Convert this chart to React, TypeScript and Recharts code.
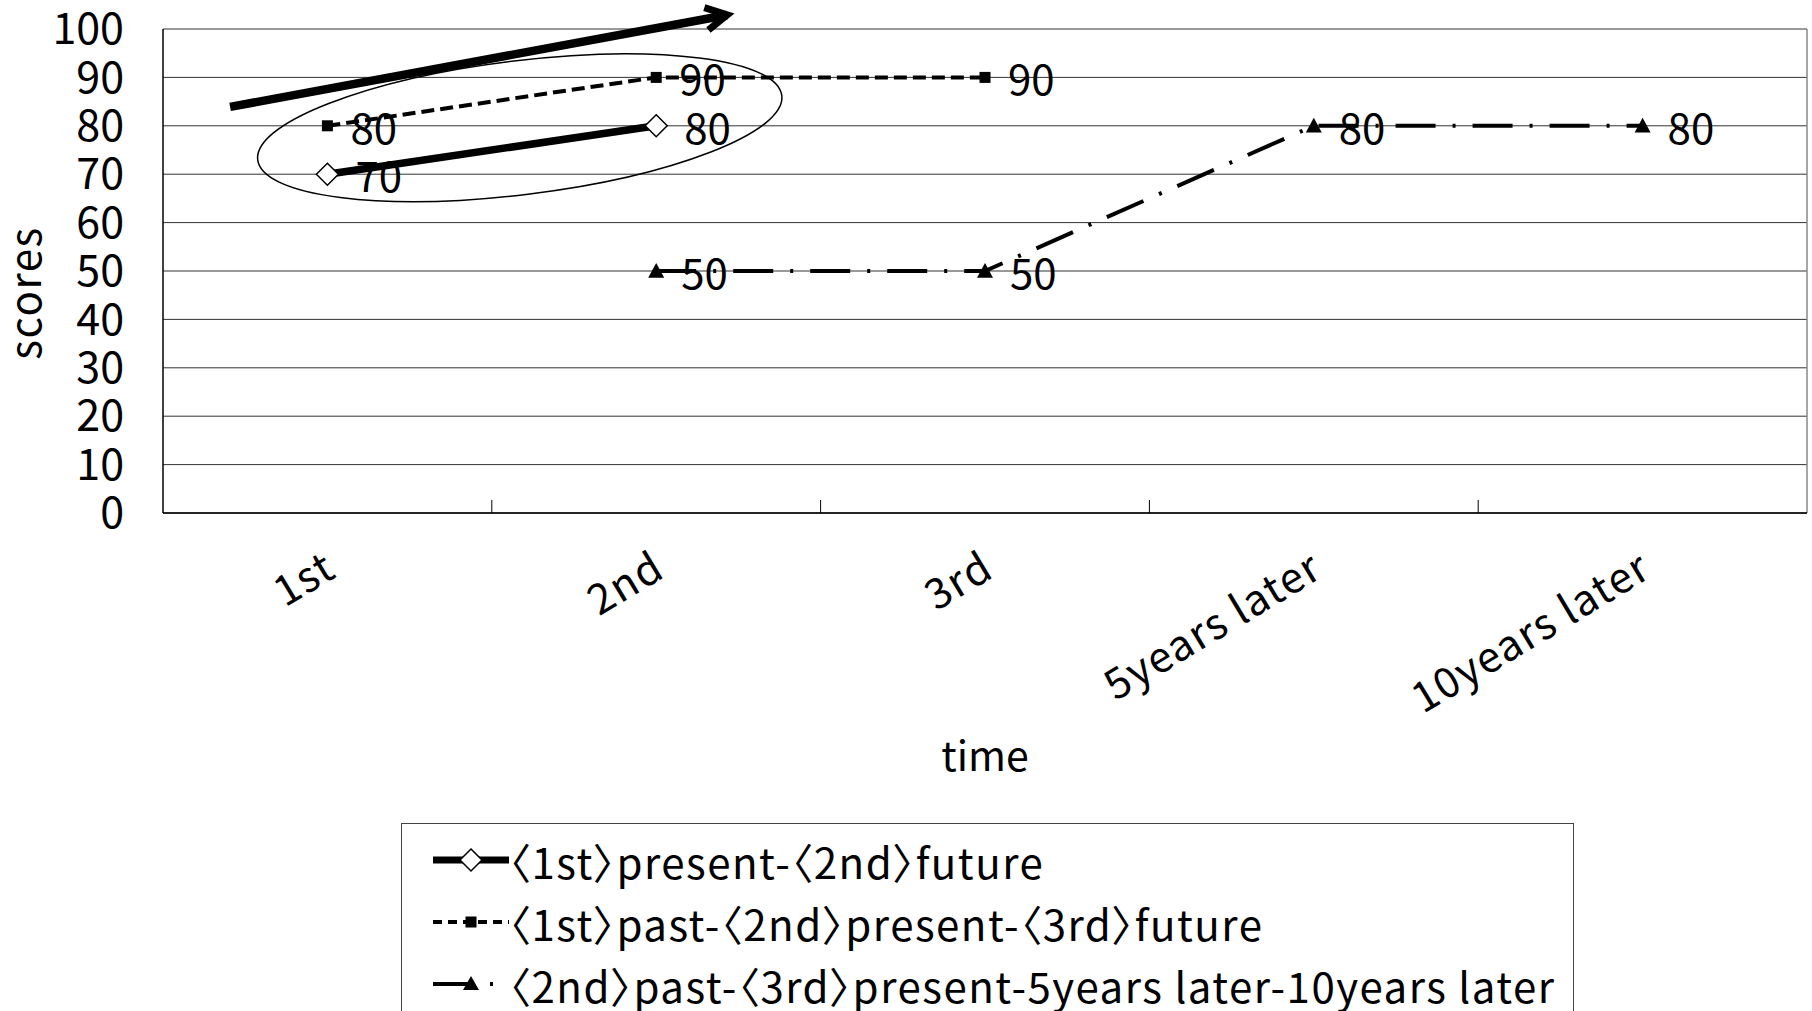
import React from 'react';
import {
  LineChart, Line, XAxis, YAxis, CartesianGrid, Legend, LabelList, ReferenceLine, ReferenceDot,
} from 'recharts';

const FONT = "'Noto Sans CJK JP', 'Noto Sans', sans-serif";

const categories = ['1st', '2nd', '3rd', '5years later', '10years later'];
const series1 = [70, 80, null, null, null];
const series2 = [80, 90, 90, null, null];
const series3 = [null, 50, 50, 80, 80];
const seriesNames = [
  '〈1st〉present-〈2nd〉future',
  '〈1st〉past-〈2nd〉present-〈3rd〉future',
  '〈2nd〉past-〈3rd〉present-5years later-10years later',
];
const yTicks = [0, 10, 20, 30, 40, 50, 60, 70, 80, 90, 100];

// annotation positions (category index, value)
const arrowFrom = { x: -0.296, y: 83.9 };
const arrowTo = { x: 1.216, y: 102.9 };
const ellipseCenter = { x: 0.585, y: 79.6 };

const data = categories.map((c, i) => ({
  idx: i,
  name: c,
  s1: series1[i],
  s2: series2[i],
  s3: series3[i],
}));
const boundaries = categories.slice(1).map((_, i) => i + 0.5);

const Diamond = (p: any) => {
  if (p.cy == null || p.value == null) return <g key={p.key} />;
  const s = 11;
  return (
    <polygon key={p.key}
      points={`${p.cx},${p.cy - s} ${p.cx + s},${p.cy} ${p.cx},${p.cy + s} ${p.cx - s},${p.cy}`}
      fill="#fff" stroke="#000" strokeWidth={1.5} />
  );
};
const Square = (p: any) => {
  if (p.cy == null || p.value == null) return <g key={p.key} />;
  const s = 5.5;
  return <rect key={p.key} x={p.cx - s} y={p.cy - s} width={2 * s} height={2 * s} fill="#000" />;
};
const Triangle = (p: any) => {
  if (p.cy == null || p.value == null) return <g key={p.key} />;
  const s = 8;
  return (
    <polygon key={p.key}
      points={`${p.cx},${p.cy - s} ${p.cx + s},${p.cy + s * 0.85} ${p.cx - s},${p.cy + s * 0.85}`}
      fill="#000" />
  );
};

const XTick = (p: any) => {
  const ax = p.x - 5;
  const ay = p.y + 36;
  return (
    <text x={ax} y={ay} dy="0.74em" textAnchor="end" fontSize={42} letterSpacing={1.5} fontFamily={FONT} fill="#000"
      transform={`rotate(-31 ${ax} ${ay})`}>
      {categories[p.payload.value]}
    </text>
  );
};

const ArrowShape = (p: any) => {
  const { x1, y1, x2, y2 } = p;
  const ang = Math.atan2(y2 - y1, x2 - x1);
  const L = 24;
  const a1 = ang + Math.PI - 0.49;
  const a2 = ang + Math.PI + 0.49;
  return (
    <g>
      <line x1={x1} y1={y1} x2={x2} y2={y2} stroke="#000" strokeWidth={8.5} />
      <polyline
        points={`${x2 + L * Math.cos(a1)},${y2 + L * Math.sin(a1)} ${x2},${y2} ${x2 + L * Math.cos(a2)},${y2 + L * Math.sin(a2)}`}
        fill="none" stroke="#000" strokeWidth={7} strokeLinejoin="miter" />
    </g>
  );
};

const EllipseShape = (p: any) => (
  <ellipse cx={p.cx} cy={p.cy} rx={264} ry={67} transform={`rotate(-7 ${p.cx} ${p.cy})`}
    fill="none" stroke="#000" strokeWidth={1.5} />
);

const legendIcons = [
  (
    <svg width={80} height={30} key="i1">
      <line x1={0} y1={15} x2={76} y2={15} stroke="#000" strokeWidth={7} />
      <polygon points="38,4 49,15 38,26 27,15" fill="#fff" stroke="#000" strokeWidth={1.5} />
    </svg>
  ),
  (
    <svg width={80} height={30} key="i2">
      <line x1={0} y1={15} x2={76} y2={15} stroke="#000" strokeWidth={4} strokeDasharray="9 6" />
      <rect x={32.5} y={9.5} width={11} height={11} fill="#000" />
    </svg>
  ),
  (
    <svg width={80} height={30} key="i3">
      <line x1={0} y1={15} x2={76} y2={15} stroke="#000" strokeWidth={4} strokeDasharray="40 17 3 17" />
      <polygon points="38,7 46,21 30,21" fill="#000" />
    </svg>
  ),
];

const LegendContent = () => (
  <div style={{ paddingTop: 5, fontFamily: FONT }}>
    {seriesNames.map((n, i) => (
      <div key={n} style={{ height: 62, display: 'flex', alignItems: 'center' }}>
        <div style={{ width: 31 }} />
        {legendIcons[i]}
        <span style={{ fontSize: 42, letterSpacing: 1.5, color: '#000', whiteSpace: 'nowrap', fontFeatureSettings: '"palt"', marginLeft: -4 }}>{n}</span>
      </div>
    ))}
  </div>
);

export default function App() {
  return (
    <div style={{ position: 'absolute', left: 0, top: 0, width: 1812, height: 1011, background: '#fff' }}>
      <LineChart width={1812} height={1011} data={data}
        margin={{ top: 29, right: 5, bottom: 398, left: 0 }}>
        <CartesianGrid horizontal vertical={false} stroke="#333" strokeWidth={1} />
        <XAxis dataKey="idx" type="number" domain={[-0.5, 4.5]} ticks={[0, 1, 2, 3, 4]}
          tickLine={false} tickSize={0} tickMargin={0} height={100}
          axisLine={{ stroke: '#000', strokeWidth: 1.5 }} tick={<XTick />} interval={0}
          label={{
            content: (props: any) => {
              const vb = props.viewBox;
              return (
                <text x={vb.x + vb.width / 2} y={757} dy="0.35em" textAnchor="middle" fontSize={41}
                  fontFamily={FONT} fill="#000">time</text>
              );
            },
          }} />
        <YAxis type="number" domain={[0, 100]} ticks={yTicks} width={163} interval={0}
          tickLine={false} tickSize={0} tickMargin={39}
          axisLine={{ stroke: '#000', strokeWidth: 1.5 }}
          tick={{ fontSize: 43, fontFamily: FONT, fill: '#000' }}
          label={{
            content: () => (
              <text x={26} y={293} dy="0.35em" textAnchor="middle" fontSize={42} letterSpacing={1.5} fontFamily={FONT}
                fill="#000" transform="rotate(-90 26 293)">scores</text>
            ),
          }} />
        <ReferenceLine x={4.5} stroke="#888" strokeWidth={1.5} />
        {boundaries.map((b) => (
          <ReferenceLine key={b} segment={[{ x: b, y: 0 }, { x: b, y: 2.7 }]} stroke="#000" strokeWidth={1} />
        ))}
        <Legend layout="horizontal" verticalAlign="middle" align="center"
          wrapperStyle={{ left: 401, top: 823, width: 1173, height: 220, border: '1.5px solid #444', boxSizing: 'border-box', background: '#fff' }}
          content={<LegendContent />} />
        <Line dataKey="s1" name={seriesNames[0]} stroke="#000" strokeWidth={7.5} isAnimationActive={false}
          dot={Diamond} activeDot={false}>
          <LabelList dataKey="s1" position="right" offset={28} fontSize={42} fontFamily={FONT} fill="#000" dy={3} />
        </Line>
        <Line dataKey="s2" name={seriesNames[1]} stroke="#000" strokeWidth={4} strokeDasharray="13 6"
          isAnimationActive={false} dot={Square} activeDot={false}>
          <LabelList dataKey="s2" position="right" offset={23} fontSize={42} fontFamily={FONT} fill="#000" dy={3} />
        </Line>
        <Line dataKey="s3" name={seriesNames[2]} stroke="#000" strokeWidth={4} strokeDasharray="40 17 3 17"
          isAnimationActive={false} dot={Triangle} activeDot={false}>
          <LabelList dataKey="s3" position="right" offset={25} fontSize={42} fontFamily={FONT} fill="#000" dy={3} />
        </Line>
        <ReferenceLine segment={[arrowFrom, arrowTo]} ifOverflow="visible" shape={<ArrowShape />} />
        <ReferenceDot x={ellipseCenter.x} y={ellipseCenter.y} ifOverflow="visible" shape={<EllipseShape />} />
      </LineChart>
    </div>
  );
}
